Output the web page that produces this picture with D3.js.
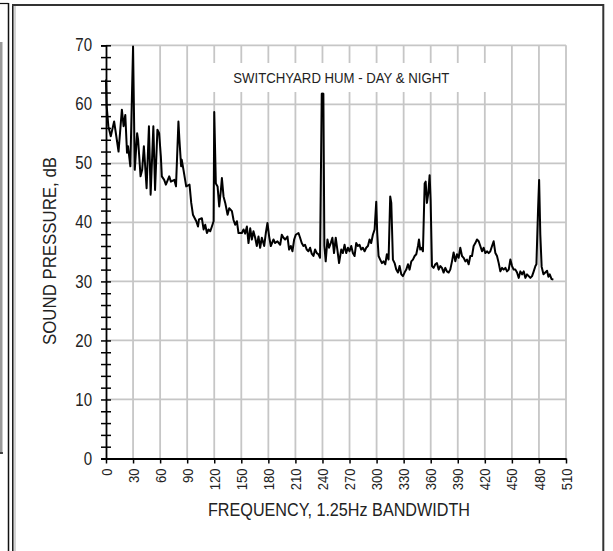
<!DOCTYPE html>
<html><head><meta charset="utf-8">
<script src="https://cdn.jsdelivr.net/npm/d3@7"></script>
<style>
html,body{margin:0;padding:0;background:#fff;}
svg{display:block;}
text{font-family:"Liberation Sans",Arial,sans-serif;fill:#222;}
</style></head>
<body><svg id="c" width="613" height="551"></svg>
<script>
const title = "SWITCHYARD HUM - DAY & NIGHT";
const xTitle = "FREQUENCY, 1.25Hz BANDWIDTH";
const yTitle = "SOUND PRESSURE, dB";
const xTicks = [0,30,60,90,120,150,180,210,240,270,300,330,360,390,420,450,480,510];
const yTicks = [0,10,20,30,40,50,60,70];
const freq = [0,0.75,2.6,5.3,9,12,13.9,17.6,19.5,21.4,23.3,24.4,27,30,31.9,34.5,35.6,38.3,40.1,42,45,47.6,49.5,52.5,54.4,57,58.9,60.8,61.9,64.5,66.4,70.1,72,75.8,77.6,80.3,81.4,83.3,84,85.9,88.9,92.6,94.5,96.4,100.1,102,103.1,
106.3,108.2,110,111.9,113.7,115.6,117.4,119.3,120,121.8,123.7,125.5,127.4,128.5,130.3,132.2,134.8,136.6,139.6,141.4,143.2,145.1,146.9,150.6,152.5,154.3,156.2,158,159.9,161.7,163.5,165.4,167.2,169.1,170.9,172.8,175.4,177.2,179,180.9,182.7,185.7,187.5,190.1,193.1,194.9,196.8,198.6,201.2,203,204.9,206.7,208.6,210.4,213.4,215.2,217,218.9,220.7,222.6,224.4,226.3,228.1,230,231.8,233.7,235.5,237.3,239.2,241,242.1,243.6,245.5,247.3,249.2,251,252.8,254.7,256.5,258.4,
260.8,262.6,264.5,266.3,268.2,270,271.9,273.7,275.6,277.4,279.3,281.1,283,284.8,286.7,288.5,290.4,292.2,294,295.9,297.8,299.6,300.7,302.2,304,305.9,307.7,309.6,311.4,313.3,315.1,316.3,318.1,320,321.8,323.7,325.5,327.4,329.2,331,332.9,334.8,336.6,338.5,340.3,342.2,344,345.9,347,348.4,349.6,351.4,353.3,354.4,355.8,357.3,358.8,359.9,361.4,363.2,365.1,366.9,368.8,370.6,372.5,374.3,376.2,378,379.9,381.7,383.6,385.4,387.3,389.1,391,392.8,394.7,396.5,398.4,400.2,402.1,403.9,405.8,407.6,409.5,411.3,413.2,415,416.9,418.7,420.6,422.4,424.3,426.1,428,429.8,431.7,433.5,435.4,437.2,439.1,440.9,442.8,444.6,446.5,448.3,450.2,452,453.9,455.7,457.6,459.4,461.3,463.1,465,466.8,468.7,470.5,472.4,474.2,476.1,477.2,479,480.2,481.5,483,485,487,489,490.5,492,494,496];
const level = [64.2,59.7,56.3,54.6,57.1,54.0,52.0,59.1,56.3,58.2,51.8,52.9,49.5,69.8,48.9,55.1,54.0,47.8,48.9,52.9,45.8,56.3,44.7,56.3,45.5,55.7,55.1,51.2,47.8,47.2,46.4,47.8,46.9,47.2,46.1,57.1,54.0,49.5,50.6,48.9,46.1,46.4,43.3,41.3,40.2,39.3,40.5,
40.7,38.8,39.6,38.2,38.8,38.5,39.3,40.2,58.7,46.6,46.1,42.7,45.5,47.5,44.4,43.3,41.3,42.4,41.9,40.4,39.6,40.2,38.2,38.2,38.8,38.1,39.3,36.5,39.0,37.1,38.5,37.4,36.0,37.6,35.7,37.4,36.0,38.2,39.9,37.6,36.0,37.1,36.5,36.8,36.2,37.9,37.4,37.1,37.6,35.4,36.0,35.1,37.1,37.9,38.2,37.4,36.5,36.0,36.2,35.4,35.1,35.7,34.7,34.3,35.4,34.8,34.6,34.0,61.8,61.8,36.0,33.4,37.1,35.7,36.5,37.4,34.8,37.4,35.4,33.1,
35.4,34.8,36.2,34.8,35.7,35.1,36.0,34.8,34.3,36.5,36.0,36.2,35.4,35.7,35.1,35.7,36.0,37.1,36.5,37.9,38.8,43.5,38.2,34.3,33.7,33.1,33.4,32.9,34.6,33.7,44.4,43.3,33.7,33.1,32.0,31.5,32.6,31.2,30.9,31.5,32.0,32.9,32.0,33.4,33.7,34.3,34.6,36.0,37.1,35.4,35.7,35.1,46.6,46.9,43.3,44.9,48.0,43.8,32.6,32.3,32.9,33.1,32.0,32.6,32.3,31.5,32.3,31.7,31.5,32.0,33.4,34.9,33.4,34.6,34.0,35.7,34.3,34.0,33.4,33.7,32.9,34.3,34.3,36.0,36.5,37.1,36.8,36.0,35.1,35.7,34.8,35.1,34.8,35.1,36.0,36.8,34.8,34.3,33.1,31.7,32.3,32.0,32.3,31.7,32.0,33.7,32.6,32.0,32.0,31.5,30.6,31.7,31.2,31.7,30.6,31.2,30.9,30.6,30.9,31.7,32.6,32.9,42.1,47.2,38.0,32.5,31.2,31.5,31.8,30.8,31.2,30.4,30.3];

const svg = d3.select("#c");
const x = d3.scaleLinear().domain([0,510]).range([106,566]);
const y = d3.scaleLinear().domain([0,70]).range([458.5,45.3]);

function narrow(sel, ratio){
  sel.each(function(){
    const w = this.getComputedTextLength();
    d3.select(this).attr("textLength", w*ratio).attr("lengthAdjust","spacingAndGlyphs");
  });
}
function fit(sel, len){
  sel.attr("textLength", len).attr("lengthAdjust","spacingAndGlyphs");
}

// outer frames
const fr = svg.append("g").attr("fill","none");
fr.append("line").attr("x1",8.5).attr("x2",8.5).attr("y1",3).attr("y2",551).attr("stroke","#111").attr("stroke-width",1.5);
fr.append("line").attr("x1",0).attr("x2",8.5).attr("y1",3.5).attr("y2",3.5).attr("stroke","#111").attr("stroke-width",1.2);
fr.append("rect").attr("x",0).attr("y",42).attr("width",2.5).attr("height",412).attr("fill","#999");
fr.append("line").attr("x1",0).attr("x2",3).attr("y1",453).attr("y2",453).attr("stroke","#222").attr("stroke-width",1.5);
fr.append("line").attr("x1",12.8).attr("x2",12.8).attr("y1",5).attr("y2",551).attr("stroke","#111").attr("stroke-width",1.5);
fr.append("line").attr("x1",15).attr("x2",15).attr("y1",6).attr("y2",551).attr("stroke","#aaa").attr("stroke-width",1);
fr.append("line").attr("x1",12).attr("x2",604).attr("y1",5).attr("y2",5).attr("stroke","#333").attr("stroke-width",2);
fr.append("line").attr("x1",603.3).attr("x2",603.3).attr("y1",4).attr("y2",551).attr("stroke","#333").attr("stroke-width",2);

// grid
const grid = svg.append("g").attr("stroke","#c6c6c6").attr("stroke-width",1.8);
grid.selectAll("line.v").data(xTicks.slice(1)).join("line").attr("class","v")
  .attr("x1",d=>x(d)).attr("x2",d=>x(d)).attr("y1",y(0)).attr("y2",y(70));
grid.selectAll("line.h").data(yTicks.slice(1)).join("line").attr("class","h")
  .attr("x1",x(0)).attr("x2",x(510)).attr("y1",d=>y(d)).attr("y2",d=>y(d));

// title box
svg.append("rect").attr("x",205).attr("y",63).attr("width",287).attr("height",29).attr("fill","#fff");
svg.append("text").attr("x",341.3).attr("y",83.3).attr("text-anchor","middle")
  .attr("font-size",15.5).text(title).call(fit,216);

// data line
svg.append("path").datum(freq.map((f,i)=>[f,level[i]]))
  .attr("fill","none").attr("stroke","#000").attr("stroke-width",2).attr("stroke-linejoin","round")
  .attr("d",d3.line().x(d=>x(d[0])).y(d=>y(d[1])));

// y axis
const minor = d3.range(0,71,2);
const yl = svg.append("g").attr("transform",`translate(${x(0)},0)`)
  .call(d3.axisLeft(y).tickValues(minor).tickSize(5).tickFormat(""));
const yr = svg.append("g").attr("transform",`translate(${x(0)},0)`)
  .call(d3.axisRight(y).tickValues(minor).tickSize(5).tickFormat(""));
yr.select(".domain").remove();
const ylab = svg.append("g").attr("transform",`translate(${x(0)},0)`)
  .call(d3.axisLeft(y).tickValues(yTicks).tickSize(0).tickPadding(14));
ylab.select(".domain").remove();
ylab.selectAll("text").attr("font-size",17.5).attr("font-family",null).style("fill","#222").call(narrow,0.86);
[yl,yr].forEach(g=>{g.selectAll("line").attr("stroke","#000").attr("stroke-width",1.5);});
yl.select(".domain").attr("stroke","#000").attr("stroke-width",1.8);

// x axis
const xa = svg.append("g").attr("transform",`translate(0,${y(0)})`)
  .call(d3.axisBottom(x).tickValues(xTicks).tickSize(5).tickSizeOuter(0));
xa.select(".domain").attr("stroke","#000").attr("stroke-width",1.8);
xa.selectAll("line").attr("stroke","#000").attr("stroke-width",1.5);
xa.selectAll("text").attr("font-size",14.5).attr("font-family",null).style("fill","#222")
  .attr("transform","rotate(-90)").attr("text-anchor","end")
  .attr("x",-10).attr("y",0).attr("dy","0.35em").call(narrow,0.9);

// axis titles
svg.append("text").attr("x",339).attr("y",516).attr("text-anchor","middle").attr("font-size",17.5).text(xTitle).call(fit,262);
svg.append("text").attr("transform","translate(56,251) rotate(-90)").attr("text-anchor","middle").attr("font-size",17.5).text(yTitle).call(fit,188);
</script></body></html>
